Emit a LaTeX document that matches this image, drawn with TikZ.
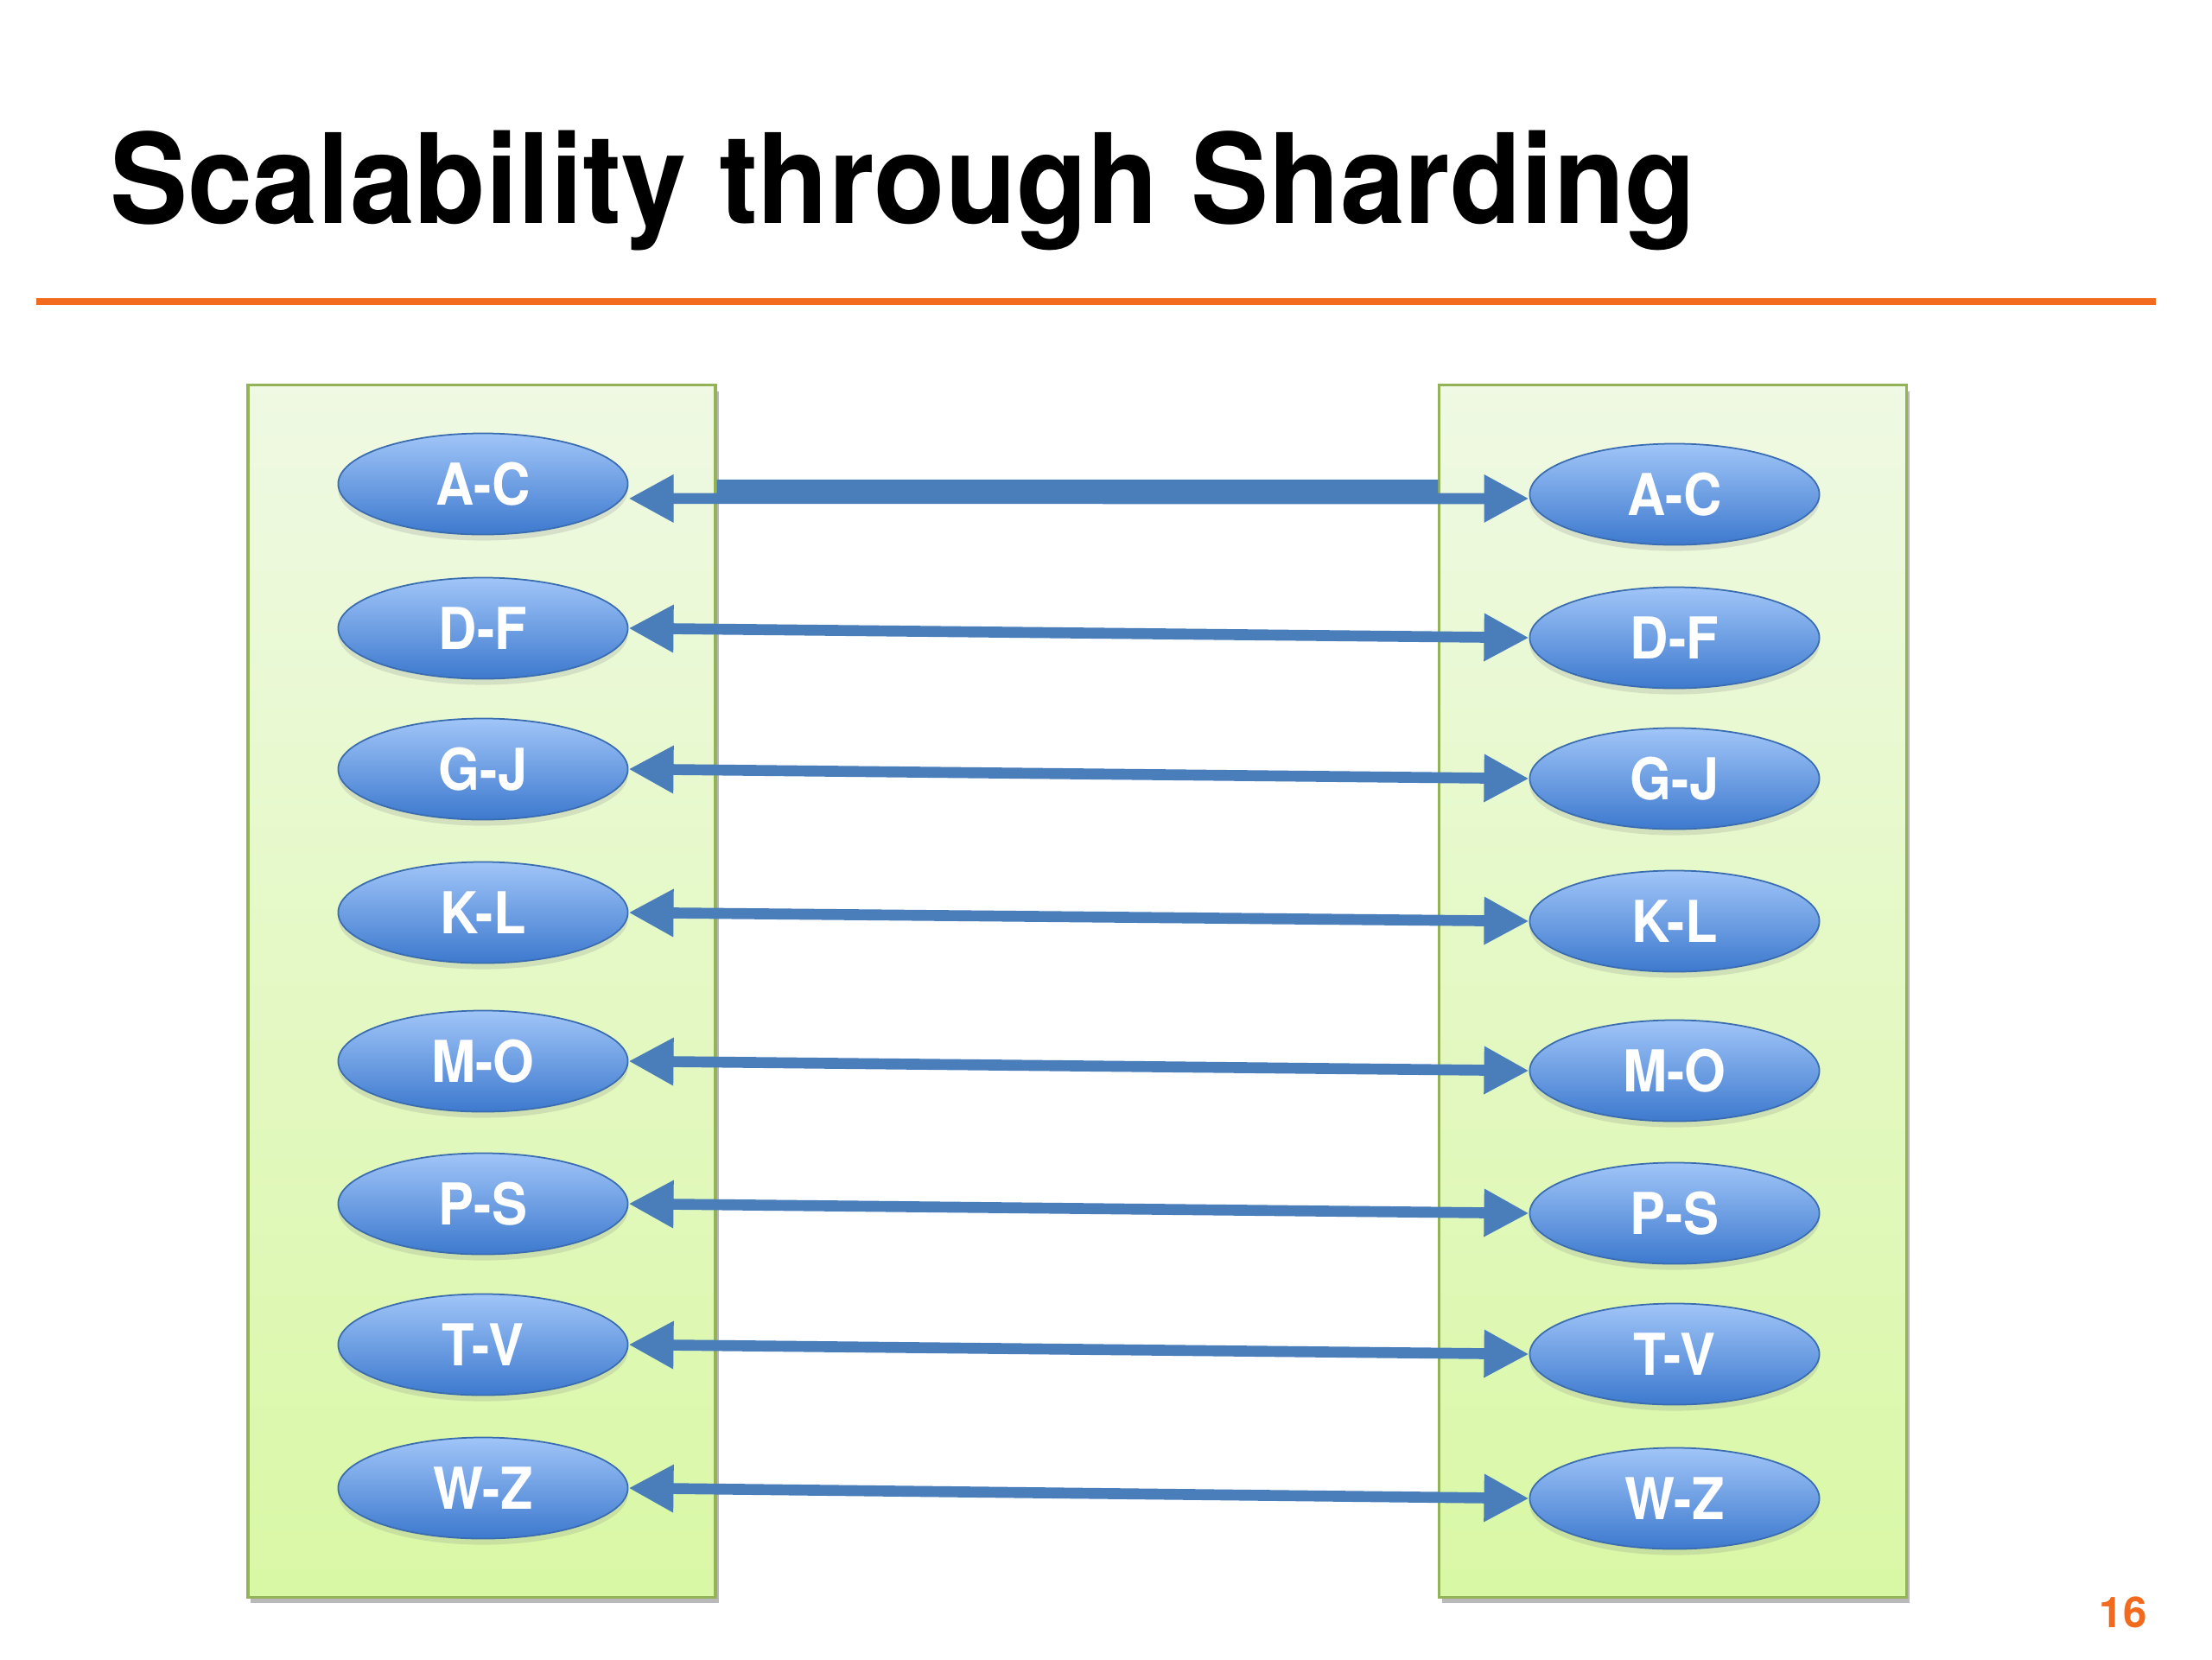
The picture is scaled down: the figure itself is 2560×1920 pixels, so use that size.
\documentclass[tikz,border=0pt]{standalone}
\usepackage{fontspec}
\setmainfont{TeX Gyre Heros}
\newfontfamily\slidefont[FakeStretch=0.92]{TeX Gyre Heros}
\newfontfamily\headfont[FakeStretch=0.935]{TeX Gyre Heros}
\usetikzlibrary{arrows.meta,shapes.geometric,shadows}
\definecolor{SHInk}{HTML}{000000}
\definecolor{SHOrange}{HTML}{F26A1E}
\definecolor{SHBlue}{HTML}{4A7EBB}
\definecolor{SHBlueTop}{HTML}{A0C5F8}
\definecolor{SHBlueLow}{HTML}{3D79CE}
\definecolor{SHBlueEdge}{HTML}{3A6CB0}
\definecolor{SHPanelTop}{HTML}{EFF9E3}
\definecolor{SHPanelLow}{HTML}{D9F8A5}
\definecolor{SHPanelEdge}{HTML}{93B356}
\tikzset{
  server/.style={draw=SHPanelEdge,line width=1pt,top color=SHPanelTop,bottom color=SHPanelLow,
                 minimum width=5.41cm,minimum height=14.02cm,inner sep=0pt,
                 drop shadow={shadow xshift=1pt,shadow yshift=-2pt,opacity=.55}},
  shard/.style={ellipse,draw=SHBlueEdge,line width=.5pt,top color=SHBlueTop,bottom color=SHBlueLow,
                minimum width=3.35cm,minimum height=1.17cm,inner sep=0pt,text=white,
                font=\slidefont\fontsize{19}{21}\selectfont\bfseries,
                drop shadow={shadow xshift=0pt,shadow yshift=-2pt,opacity=.2}},
  replicate/.style={{Triangle[length=5.2mm,width=5.2mm]}-{Triangle[length=5.2mm,width=5.2mm]},
                    SHBlue,line width=3.6pt},
  thickbar/.style={SHBlue,line width=7.6pt,shorten <=1.02cm,shorten >=1.05cm},
  title/.style={text=SHInk,font=\headfont\fontsize{41}{46}\selectfont\bfseries,anchor=base west,inner sep=0pt},
  pagenum/.style={text=SHOrange,font=\fontsize{14}{16}\selectfont\bfseries},
}
\begin{document}
\begin{tikzpicture}[x=.01cm,y=-.01cm]
    \useasboundingbox[fill=white] (0,0) rectangle (2560,1920);
    \node[title] (head) at (127,258) {Scalability through Sharding};
    \draw[SHOrange,line width=2.3pt] (42,349) -- (2495,349);

    \node[server] (lpanel) at (557.5,1147) {};
    \node[server] (rpanel) at (1936,1147) {};

    \node[shard] (lac) at (559,560) {A-C};
    \node[shard] (ldf) at (559,727) {D-F};
    \node[shard] (lgj) at (559,890) {G-J};
    \node[shard] (lkl) at (559,1056) {K-L};
    \node[shard] (lmo) at (559,1228) {M-O};
    \node[shard] (lps) at (559,1393) {P-S};
    \node[shard] (ltv) at (559,1556) {T-V};
    \node[shard] (lwz) at (559,1722) {W-Z};

    \node[shard] (rac) at (1938,572) {A-C};
    \node[shard] (rdf) at (1938,738) {D-F};
    \node[shard] (rgj) at (1938,901) {G-J};
    \node[shard] (rkl) at (1938,1066) {K-L};
    \node[shard] (rmo) at (1938,1239) {M-O};
    \node[shard] (rps) at (1938,1404) {P-S};
    \node[shard] (rtv) at (1938,1567) {T-V};
    \node[shard] (rwz) at (1938,1734) {W-Z};

    \draw[thickbar] ([yshift=-2.4pt]lac.east) -- ([yshift=1pt]rac.west);
    \draw[replicate] ([yshift=-4.8pt]lac.east) -- ([yshift=-1.4pt]rac.west);
    \draw[replicate] (ldf.east) -- (rdf.west);
    \draw[replicate] (lgj.east) -- (rgj.west);
    \draw[replicate] (lkl.east) -- (rkl.west);
    \draw[replicate] (lmo.east) -- (rmo.west);
    \draw[replicate] (lps.east) -- (rps.west);
    \draw[replicate] (ltv.east) -- (rtv.west);
    \draw[replicate] (lwz.east) -- (rwz.west);

    \node[pagenum] (page) at (2457,1866) {16};
  \end{tikzpicture}
\end{document}
